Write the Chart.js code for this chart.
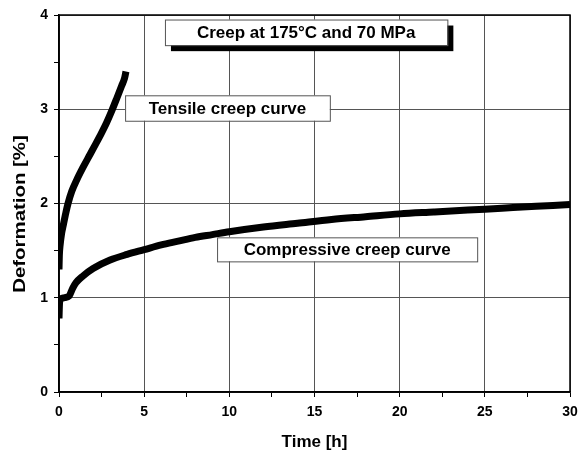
<!DOCTYPE html>
<html>
<head>
<meta charset="utf-8">
<script src="https://cdn.jsdelivr.net/npm/chart.js"></script>
<style>
  html, body { margin: 0; padding: 0; background: #fff; }
  #wrap { width: 581px; height: 457px; }
</style>
</head>
<body>
<div id="wrap"><canvas id="creepChart" width="581" height="457"></canvas></div>
<script>
// Tensile creep curve (time in h, deformation in %)
const tensileTime = [0, 0.02, 0.06, 0.15, 0.25, 0.4, 0.53, 0.75, 1.04, 1.4, 1.82, 2.15, 2.5, 2.8, 3.09, 3.4, 3.68, 3.85, 3.93];
const tensileDef  = [1.3, 1.45, 1.55, 1.68, 1.77, 1.9, 2.0, 2.13, 2.25, 2.38, 2.52, 2.63, 2.75, 2.86, 2.98, 3.12, 3.25, 3.33, 3.4];

// Compressive creep curve
const compTime = [0, 0.03, 0.08, 0.3, 0.6, 0.8, 1.0, 1.4, 2, 3, 4, 5, 6, 7, 8, 9, 10, 12, 14, 16, 18, 20, 22, 24, 26, 28, 30];
const compDef  = [0.78, 0.94, 0.98, 1.0, 1.02, 1.1, 1.16, 1.23, 1.31, 1.4, 1.46, 1.51, 1.56, 1.6, 1.64, 1.67, 1.7, 1.75, 1.79, 1.83, 1.86, 1.89, 1.91, 1.93, 1.95, 1.97, 1.99];

// Text boxes in data coordinates: [x1, y1, x2, y2]
const boxTexts = ['Creep at 175°C and 70 MPa', 'Tensile creep curve', 'Compressive creep curve'];
const boxCoords = [[6.22, 3.952, 22.8, 3.68], [3.88, 3.148, 15.9, 2.878], [9.28, 1.641, 24.55, 1.386]];
const boxShadow = [true, false, false];

const yTitle = 'Deformation [%]';

const FONT = "'Liberation Sans', Arial, sans-serif";

const toPoints = (xs, ys) => xs.map((x, i) => ({ x: x, y: ys[i] }));

// frame around the plot, labelled boxes, and the (stretched) y title
const framePlugin = {
  id: 'frame',
  afterDraw(chart) {
    const { ctx, chartArea: a, scales } = chart;
    ctx.save();
    ctx.strokeStyle = '#000';
    ctx.lineWidth = 1.5;
    ctx.strokeRect(a.left, a.top, a.right - a.left, a.bottom - a.top);

    ctx.font = 'bold 17px ' + FONT;
    ctx.textAlign = 'center';
    ctx.textBaseline = 'middle';
    boxTexts.forEach((txt, i) => {
      const c = boxCoords[i];
      const x1 = scales.x.getPixelForValue(c[0]);
      const y1 = scales.y.getPixelForValue(c[1]);
      const x2 = scales.x.getPixelForValue(c[2]);
      const y2 = scales.y.getPixelForValue(c[3]);
      if (boxShadow[i]) {
        ctx.fillStyle = '#000';
        ctx.fillRect(x1 + 6, y1 + 6, x2 - x1, y2 - y1);
      }
      ctx.fillStyle = '#fff';
      ctx.fillRect(x1, y1, x2 - x1, y2 - y1);
      ctx.strokeStyle = '#555';
      ctx.lineWidth = 1;
      ctx.strokeRect(x1 + 0.5, y1 + 0.5, x2 - x1, y2 - y1);
      ctx.fillStyle = '#000';
      ctx.fillText(txt, (x1 + x2) / 2, (y1 + y2) / 2 + 1);
    });

    // y axis title
    ctx.translate(20, 214);
    ctx.rotate(-Math.PI / 2);
    ctx.scale(1.2, 1);
    ctx.font = 'bold 17px ' + FONT;
    ctx.fillStyle = '#000';
    ctx.fillText(yTitle, 0, 0);
    ctx.restore();
  }
};

const ctx = document.getElementById('creepChart').getContext('2d');
new Chart(ctx, {
  type: 'scatter',
  data: {
    datasets: [
      {
        label: 'Tensile creep curve',
        data: toPoints(tensileTime, tensileDef),
        showLine: true,
        borderColor: '#000',
        borderWidth: 7,
        pointRadius: 0,
        cubicInterpolationMode: 'monotone',
      },
      {
        label: 'Compressive creep curve',
        data: toPoints(compTime, compDef),
        showLine: true,
        borderColor: '#000',
        borderWidth: 7,
        pointRadius: 0,
        cubicInterpolationMode: 'monotone',
      },
    ],
  },
  options: {
    responsive: false,
    animation: false,
    layout: { padding: { top: 15, right: 11, left: 0, bottom: 0 } },
    plugins: {
      legend: { display: false },
      tooltip: { enabled: false },
    },
    scales: {
      x: {
        type: 'linear',
        min: 0,
        max: 30,
        afterFit: (s) => { s.height = 65; s.paddingRight = 0; s.paddingLeft = 0; },
        ticks: {
          stepSize: 2.5,
          color: '#000',
          font: { family: FONT, weight: 'bold', size: 14 },
          padding: 7,
          maxRotation: 0,
          callback: (v) => (v % 5 === 0 ? v : ''),
        },
        grid: {
          color: (c) => (c.tick && c.tick.value % 5 === 0 ? '#555' : 'rgba(0,0,0,0)'),
          tickColor: '#000',
          tickLength: 5,
          lineWidth: 1,
        },
        border: { color: '#000', width: 1.5 },
        title: {
          display: true,
          text: 'Time [h]',
          color: '#000',
          font: { family: FONT, weight: 'bold', size: 17 },
          padding: { top: 4 },
        },
      },
      y: {
        min: 0,
        max: 4,
        afterFit: (s) => { s.width = 59; s.paddingTop = 0; s.paddingBottom = 0; },
        ticks: {
          stepSize: 0.5,
          color: '#000',
          font: { family: FONT, weight: 'bold', size: 14 },
          padding: 6,
          callback: (v) => (Number.isInteger(v) ? v : ''),
        },
        grid: {
          color: (c) => (c.tick && Number.isInteger(c.tick.value) ? '#555' : 'rgba(0,0,0,0)'),
          tickColor: '#000',
          tickLength: 5,
          lineWidth: 1,
        },
        border: { color: '#000', width: 1.5 },
        title: { display: false },
      },
    },
  },
  plugins: [framePlugin],
});
</script>
</body>
</html>
